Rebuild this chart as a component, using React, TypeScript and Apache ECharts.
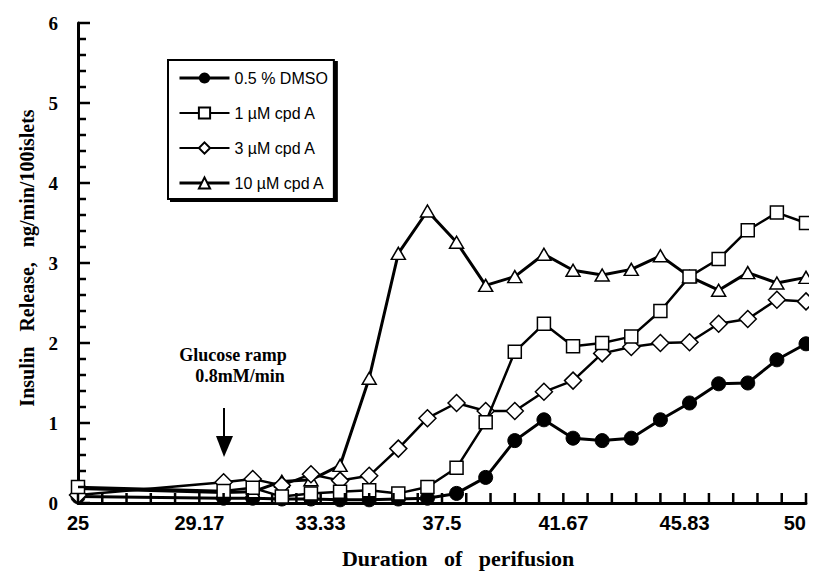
import React, { useEffect, useRef } from "react";
import * as echarts from "echarts";

// Duration of perifusion (min)
const minutes = [25, 30, 31, 32, 33, 34, 35, 36, 37, 38, 39, 40, 41, 42, 43, 44, 45, 46, 47, 48, 49, 50];
// Insulin release, ng/min/100islets
const dmso = [0.08, 0.06, 0.06, 0.05, 0.05, 0.04, 0.04, 0.05, 0.06, 0.12, 0.32, 0.78, 1.04, 0.81, 0.78, 0.81, 1.04, 1.25, 1.49, 1.5, 1.79, 1.99];
const cpdA1 = [0.2, 0.15, 0.19, 0.08, 0.12, 0.14, 0.16, 0.12, 0.2, 0.44, 1.01, 1.89, 2.24, 1.96, 2.0, 2.08, 2.4, 2.83, 3.05, 3.41, 3.63, 3.5];
const cpdA3 = [0.1, 0.26, 0.3, 0.22, 0.36, 0.28, 0.34, 0.68, 1.06, 1.25, 1.15, 1.15, 1.39, 1.53, 1.87, 1.95, 2.0, 2.01, 2.24, 2.3, 2.54, 2.52];
const cpdA10 = [0.18, 0.13, 0.14, 0.27, 0.29, 0.47, 1.56, 3.12, 3.65, 3.26, 2.72, 2.83, 3.11, 2.91, 2.85, 2.92, 3.09, 2.83, 2.66, 2.88, 2.75, 2.82];

const seriesNames = ["0.5 % DMSO", "1 \u00B5M cpd A", "3 \u00B5M cpd A", "10 \u00B5M cpd A"];
const xTickLabels = [25, 29.17, 33.33, 37.5, 41.67, 45.83, 50];
const yTickLabels = [0, 1, 2, 3, 4, 5, 6];

const SERIF = "'Liberation Serif', 'Times New Roman', serif";
const SANS = "'Liberation Sans', Arial, sans-serif";
const NARROW = "'Liberation Sans Narrow', 'Liberation Sans', Arial, sans-serif";

export default function App() {
  const ref = useRef<HTMLDivElement>(null);

  useEffect(() => {
    if (!ref.current) return;
    const chart = echarts.init(ref.current, undefined, { renderer: "svg" });

    const pts = (arr: number[]) => minutes.map((m, i) => [m, arr[i]]);
    const hollow = { color: "#fff", borderColor: "#000", borderWidth: 1.5 };

    // inside tick marks: y every 0.2 (longer at integers), x every 5/6 min
    const yTickVals: number[][] = [];
    for (let k = 0; k <= 30; k++) yTickVals.push([25, k * 0.2, k % 5 === 0 ? 12 : 8]);
    const xTickVals: number[][] = [];
    for (let k = 0; k <= 30; k++) xTickVals.push([25 + (k * 25) / 30, 0, 10]);

    chart.setOption({
      animation: false,
      backgroundColor: "#fff",
      textStyle: { fontFamily: SANS, color: "#000" },
      grid: { left: 78, right: 11, top: 23, bottom: 68, containLabel: false },
      legend: {
        data: seriesNames.map((name, i) => ({
          name,
          lineStyle: { width: i === 0 || i === 3 ? 3 : 2 },
        })),
        orient: "vertical",
        left: 168,
        top: 60,
        itemWidth: 50,
        itemHeight: 14,
        itemGap: 19,
        padding: [10, 6, 8, 10],
        borderColor: "#000",
        borderWidth: 2,
        backgroundColor: "#fff",
        shadowColor: "#000",
        shadowOffsetX: 3,
        shadowOffsetY: 2,
        shadowBlur: 0,
        selectedMode: false,
        textStyle: { fontFamily: SANS, fontSize: 16, color: "#000", lineHeight: 16 },
      },
      xAxis: {
        type: "value",
        min: 25,
        max: 50,
        axisLine: { show: true, lineStyle: { color: "#000", width: 3 } },
        axisTick: { show: false },
        axisLabel: {
          customValues: xTickLabels,
          margin: 10,
          color: "#000",
          fontFamily: NARROW,
          fontWeight: "bold",
          fontSize: 20,
          alignMaxLabel: "right",
        },
        splitLine: { show: false },
      },
      yAxis: {
        type: "value",
        min: 0,
        max: 6,
        interval: 1,
        axisLine: { show: true, lineStyle: { color: "#000", width: 3 } },
        axisTick: { show: false },
        axisLabel: {
          margin: 20,
          color: "#000",
          fontFamily: SERIF,
          fontWeight: "bold",
          fontSize: 19,
          formatter: (v: number) => (yTickLabels.includes(v) ? String(v) : ""),
        },
        splitLine: { show: false },
      },
      series: [
        {
          type: "custom",
          silent: true,
          clip: false,
          z: 10,
          data: yTickVals,
          renderItem: (_p: any, api: any) => {
            const c = api.coord([api.value(0), api.value(1)]);
            const len = api.value(2);
            return {
              type: "line",
              shape: { x1: c[0], y1: c[1], x2: c[0] + len, y2: c[1] },
              style: { stroke: "#000", lineWidth: 2.5 },
            };
          },
        },
        {
          type: "custom",
          silent: true,
          clip: false,
          z: 10,
          data: xTickVals,
          renderItem: (_p: any, api: any) => {
            const c = api.coord([api.value(0), api.value(1)]);
            const len = api.value(2);
            return {
              type: "line",
              shape: { x1: c[0], y1: c[1], x2: c[0], y2: c[1] - len },
              style: { stroke: "#000", lineWidth: 2.5 },
            };
          },
        },
        {
          name: seriesNames[0],
          type: "line",
          data: pts(dmso),
          symbol: "circle",
          symbolSize: 14,
          showAllSymbol: true,
          itemStyle: { color: "#000", borderColor: "#000" },
          lineStyle: { color: "#000", width: 3 },
          z: 2,
        },
        {
          name: seriesNames[3],
          type: "line",
          data: pts(cpdA10),
          symbol: "triangle",
          symbolSize: [14, 12],
          showAllSymbol: true,
          itemStyle: hollow,
          lineStyle: { color: "#000", width: 3 },
          z: 3,
        },
        {
          name: seriesNames[2],
          type: "line",
          data: pts(cpdA3),
          symbol: "diamond",
          symbolSize: 17,
          showAllSymbol: true,
          itemStyle: hollow,
          lineStyle: { color: "#000", width: 2.5 },
          z: 4,
        },
        {
          name: seriesNames[1],
          type: "line",
          data: pts(cpdA1),
          symbol: "rect",
          symbolSize: 13,
          showAllSymbol: true,
          itemStyle: hollow,
          lineStyle: { color: "#000", width: 2.5 },
          z: 5,
        },
      ],
      graphic: [
        {
          type: "text",
          x: 27,
          y: 258,
          rotation: Math.PI / 2,
          style: {
            text: "Insulin   Release,   ng/min/100islets",
            font: `bold 20px ${SERIF}`,
            fill: "#000",
            align: "center",
            verticalAlign: "middle",
          },
        },
        {
          type: "text",
          x: 458,
          y: 558,
          style: {
            text: "Duration   of   perifusion",
            font: `bold 22px ${SERIF}`,
            fill: "#000",
            align: "center",
            verticalAlign: "middle",
          },
        },
        {
          type: "text",
          x: 233,
          y: 355,
          style: {
            text: "Glucose ramp",
            font: `bold 18px ${SERIF}`,
            fill: "#000",
            align: "center",
            verticalAlign: "middle",
          },
        },
        {
          type: "text",
          x: 240,
          y: 376,
          style: {
            text: "0.8mM/min",
            font: `bold 18px ${SERIF}`,
            fill: "#000",
            align: "center",
            verticalAlign: "middle",
          },
        },
        {
          type: "line",
          shape: { x1: 224, y1: 408, x2: 224, y2: 440 },
          style: { stroke: "#000", lineWidth: 2 },
        },
        {
          type: "polygon",
          shape: { points: [[216, 436], [233, 436], [224, 457]] },
          style: { fill: "#000" },
        },
      ],
    });

    return () => chart.dispose();
  }, []);

  return <div ref={ref} style={{ width: 817, height: 571, marginLeft: -8, marginTop: -8 }} />;
}
